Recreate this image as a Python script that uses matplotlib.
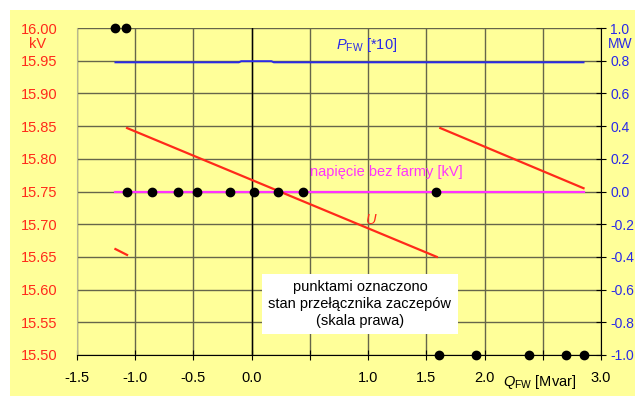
import matplotlib
matplotlib.use("Agg")
import matplotlib.pyplot as plt
from matplotlib.patches import Rectangle

plt.rcParams['font.family'] = ['Liberation Sans', 'DejaVu Sans']
plt.rcParams['mathtext.fontset'] = 'custom'
plt.rcParams['mathtext.rm'] = 'Liberation Sans'
plt.rcParams['mathtext.it'] = 'Liberation Sans:italic'

# voltage U [kV], three pieces (tap changes)
q_u1 = [-1.17, -1.07]
u1 = [15.662, 15.653]
q_u2 = [-1.07, 1.59]
u2 = [15.847, 15.650]
q_u3 = [1.62, 2.85]
u3 = [15.847, 15.755]

# active power P_FW [*10] on right axis
q_p = [-1.17, -0.11, -0.09, 0.17, 0.19, 2.85]
p_fw = [0.79, 0.79, 0.797, 0.797, 0.79, 0.79]

# voltage without the farm [kV]
q_u0 = [-1.17, 2.85]
u0 = [15.75, 15.75]

# tap changer position (right axis)
tap_q = [-1.17, -1.08, -1.07, -0.86, -0.63, -0.47, -0.19, 0.02, 0.23, 0.44, 1.58,
         1.61, 1.93, 2.38, 2.70, 2.85]
tap_pos = [1, 1, 0, 0, 0, 0, 0, 0, 0, 0, 0, -1, -1, -1, -1, -1]

x_ticks = [-1.5, -1.0, -0.5, 0.0, 0.5, 1.0, 1.5, 2.0, 2.5, 3.0]
x_labels = ["-1.5", "-1.0", "-0.5", "0.0", "", "1.0", "1.5", "2.0", "", "3.0"]
u_ticks = [15.50, 15.55, 15.60, 15.65, 15.70, 15.75, 15.80, 15.85, 15.90, 15.95, 16.00]
r_ticks = [-1.0, -0.8, -0.6, -0.4, -0.2, 0.0, 0.2, 0.4, 0.6, 0.8, 1.0]

red = "#ff2a1a"
blue = "#2a2ae8"
magenta = "#ff33ff"
yellow = "#ffff99"
gridc = "#66664a"

fig = plt.figure(figsize=(6.35, 3.98), dpi=100)
fig.patches.append(Rectangle((10 / 635, 2 / 398), 1, 386 / 398, transform=fig.transFigure,
                             facecolor=yellow, edgecolor="none", zorder=-10))

ax = fig.add_axes([77 / 635, 1 - 355 / 398, 524 / 635, 327 / 398])
ax.set_facecolor("none")
ax.set_xlim(-1.5, 3.0)
ax.set_ylim(15.5, 16.0)
ax.set_xticks(x_ticks)
ax.set_xticklabels(x_labels)
ax.set_yticks(u_ticks)
ax.set_yticklabels(["%.2f" % v for v in u_ticks])
ax.grid(True, color=gridc, linewidth=1.0)
ax.set_axisbelow(True)
ax.tick_params(axis="y", length=0, pad=14, colors=red, labelsize=10.5)
ax.tick_params(axis="x", direction="inout", length=7, pad=8, labelsize=10.5, colors="black")
for s in ["top", "right"]:
    ax.spines[s].set_visible(False)
ax.spines["left"].set_color("#b8b890")
ax.spines["bottom"].set_color("black")
ax.axvline(0, color="black", linewidth=1.0, zorder=1)

ax.plot(q_u0, u0, color=magenta, linewidth=1.6, zorder=3)
ax.plot(q_u1, u1, color=red, linewidth=1.6, zorder=3)
ax.plot(q_u2, u2, color=red, linewidth=1.6, zorder=3)
ax.plot(q_u3, u3, color=red, linewidth=1.6, zorder=3)

ax2 = ax.twinx()
ax2.set_ylim(-1.0, 1.0)
ax2.set_yticks(r_ticks)
ax2.set_yticklabels(["%.1f" % v for v in r_ticks])
ax2.tick_params(axis="y", direction="inout", length=7, pad=3, colors=blue, labelsize=10)
ax2.tick_params(axis="y", color="black")
for s in ["top", "left", "bottom"]:
    ax2.spines[s].set_visible(False)
ax2.spines["right"].set_color("black")

ax2.plot(q_p, p_fw, color=blue, linewidth=1.4, zorder=3)
ax2.plot(tap_q, tap_pos, "o", color="black", markersize=6, clip_on=False, zorder=5)

fig.text(38 / 635, 1 - 44 / 398, "kV", color=red, fontsize=10.5, ha="center", va="center")
fig.text(620 / 635, 1 - 44 / 398, "MW", color=blue, fontsize=10, ha="center", va="center")

ax.text(0.72, 15.974, r"$P_{\rm FW}$ [*10]", color=blue, fontsize=10.5, va="center")
ax.text(0.50, 15.78, "napięcie bez farmy [kV]", color=magenta, fontsize=10.5, va="center")
ax.text(1.03, 15.706, "U", color=red, fontsize=10.5, style="italic", ha="center", va="center")
ax.text(2.16, 15.459, r"$Q_{\rm FW}$ [Mvar]", color="black", fontsize=10.5, va="center",
        clip_on=False)
ax.text(0.93, 15.578, "punktami oznaczono\nstan przełącznika zaczepów\n(skala prawa)",
        fontsize=10.5, ha="center", va="center", linespacing=1.25, zorder=6,
        bbox=dict(facecolor="white", edgecolor="none", boxstyle="square,pad=0.45"))

fig.savefig("out.png", dpi=100)
